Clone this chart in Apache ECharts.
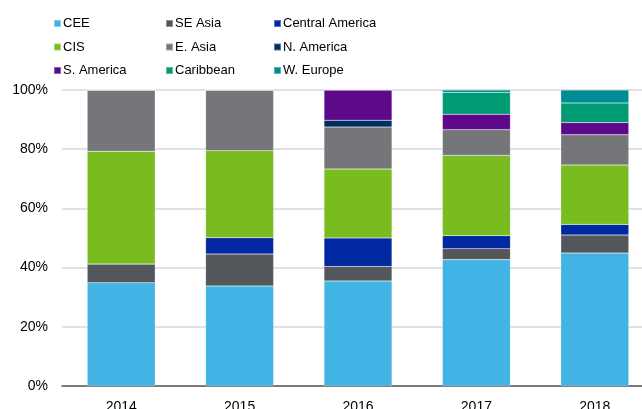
<!DOCTYPE html>
<html>
<head>
<meta charset="utf-8">
<script src="https://cdn.jsdelivr.net/npm/echarts@6/dist/echarts.min.js"></script>
<style>
  html, body { margin: 0; padding: 0; background: #fff; }
  #chart { width: 642px; height: 409px; }
</style>
</head>
<body>
<div id="chart"></div>
<script>
// years on the x axis
const years = ['2014', '2015', '2016', '2017', '2018'];

// share of each region, %
const cee = [34.9, 33.8, 35.5, 42.7, 44.9];
const seAsia = [6.3, 10.8, 4.9, 3.7, 6.1];
const centralAmerica = [0, 5.5, 9.6, 4.4, 3.6];
const cis = [38.1, 29.4, 23.3, 27.1, 20.1];
const eAsia = [20.7, 20.5, 14.2, 8.7, 10.2];
const nAmerica = [0, 0, 2.3, 0, 0];
const sAmerica = [0, 0, 10.2, 5.2, 4.1];
const caribbean = [0, 0, 0, 7.4, 6.6];
const wEurope = [0, 0, 0, 0.8, 4.4];

const yTicks = [0, 20, 40, 60, 80, 100];

const seriesList = [
  { name: 'CEE', data: cee, color: '#41b3e4' },
  { name: 'SE Asia', data: seAsia, color: '#53565a' },
  { name: 'Central America', data: centralAmerica, color: '#0028a0' },
  { name: 'CIS', data: cis, color: '#78bc20' },
  { name: 'E. Asia', data: eAsia, color: '#747679' },
  { name: 'N. America', data: nAmerica, color: '#002d5f' },
  { name: 'S. America', data: sAmerica, color: '#5c0a8a' },
  { name: 'Caribbean', data: caribbean, color: '#009a73' },
  { name: 'W. Europe', data: wEurope, color: '#008c95' }
];

const chart = echarts.init(document.getElementById('chart'));

const legendBase = {
  orient: 'vertical',
  top: 12,
  itemWidth: 7,
  itemHeight: 7,
  itemGap: 10.5,
  icon: 'rect',
  textStyle: { fontFamily: 'Liberation Sans', fontSize: 13, color: '#000', padding: [0, 0, 0, -3] },
  selectedMode: false
};

chart.setOption({
  animation: false,
  textStyle: { fontFamily: 'Liberation Sans' },
  legend: [
    Object.assign({}, legendBase, { left: 48, data: ['CEE', 'CIS', 'S. America'] }),
    Object.assign({}, legendBase, { left: 160, data: ['SE Asia', 'E. Asia', 'Caribbean'] }),
    Object.assign({}, legendBase, { left: 268, data: ['Central America', 'N. America', 'W. Europe'] })
  ],
  // the plot runs past the right edge in the original, so don't keep it inside
  grid: { left: 62, top: 90, right: -12, bottom: 23, containLabel: false, outerBoundsMode: 'none' },
  xAxis: {
    type: 'category',
    data: years,
    axisLine: { lineStyle: { color: '#595959', width: 1.5 } },
    axisTick: { show: false },
    axisLabel: { color: '#000', fontSize: 14, margin: 14 }
  },
  yAxis: {
    type: 'value',
    min: yTicks[0],
    max: yTicks[yTicks.length - 1],
    interval: 20,
    axisLine: { show: false },
    axisTick: { show: false },
    axisLabel: { color: '#000', fontSize: 14, margin: 14, formatter: '{value}%' },
    splitLine: { lineStyle: { color: '#d9d9d9', width: 1.5 } }
  },
  series: seriesList.map(s => ({
    name: s.name,
    type: 'bar',
    stack: 'total',
    barWidth: 68,
    data: s.data,
    itemStyle: { color: s.color, borderColor: 'rgba(255,255,255,0.35)', borderWidth: 0.5 }
  }))
});
</script>
</body>
</html>
